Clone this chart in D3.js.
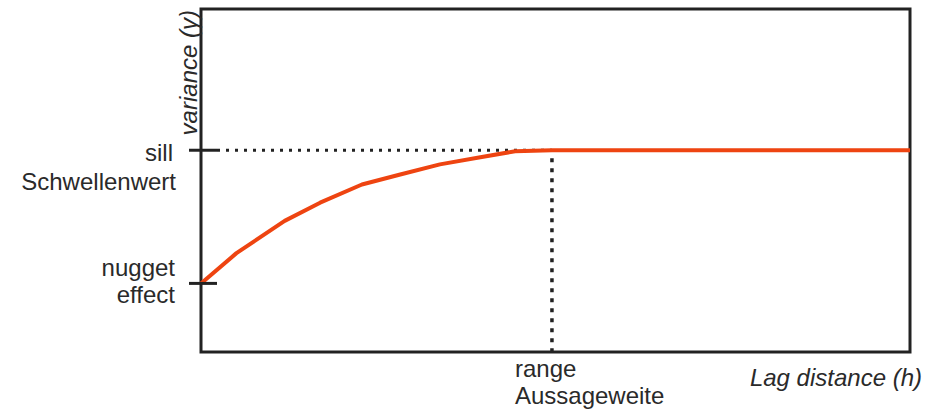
<!DOCTYPE html>
<html>
<head>
<meta charset="utf-8">
<script src="https://cdn.jsdelivr.net/npm/d3@7"></script>
<style>
  body { margin: 0; background: #fff; }
  svg text { font-family: "Liberation Sans", Arial, sans-serif; fill: #2a2a2a; }
</style>
</head>
<body>
<svg id="semivariogram"></svg>
<script>
// lag distance (h) and semivariance (gamma)
const lag = [0, 0.5, 1.18, 1.68, 2.27, 2.81, 3.37, 3.94, 4.43, 4.95, 10];
const gamma = [0.34, 0.49, 0.65, 0.74, 0.83, 0.88, 0.93, 0.965, 0.995, 1, 1];
const sill = 1;
const nugget = 0.34;
const range_h = 4.95;
const y_labels = [{v: sill, lines: ["sill", "Schwellenwert"]},
                  {v: nugget, lines: ["nugget", "effect"]}];

const svg_size = {width: 925, height: 410};
const plot_margin = {top: 9, right: 15, bottom: 58, left: 201};
const plot_width = svg_size.width - plot_margin.left - plot_margin.right;
const plot_height = svg_size.height - plot_margin.top - plot_margin.bottom;
const fs = 24;

const svg = d3.select("#semivariogram")
    .attr("width", svg_size.width)
    .attr("height", svg_size.height);
const plot = svg.append("g")
    .attr("transform", `translate(${plot_margin.left},${plot_margin.top})`);

const x = d3.scaleLinear().domain([0, 10]).range([0, plot_width]);
const y = d3.scaleLinear().domain([0, 1.7]).range([plot_height, 0]);

// frame
plot.append("rect")
    .attr("width", plot_width)
    .attr("height", plot_height)
    .attr("fill", "none")
    .attr("stroke", "#222")
    .attr("stroke-width", 3);

// dotted guides to sill and range
plot.append("line")
    .attr("x1", 16).attr("x2", x(range_h))
    .attr("y1", y(sill)).attr("y2", y(sill))
    .attr("stroke", "#222").attr("stroke-width", 3)
    .attr("stroke-dasharray", "3,6");
plot.append("line")
    .attr("x1", x(range_h)).attr("x2", x(range_h))
    .attr("y1", y(sill) + 8).attr("y2", plot_height)
    .attr("stroke", "#222").attr("stroke-width", 3.5)
    .attr("stroke-dasharray", "4,6");

// variogram curve
const line = d3.line().x((d, i) => x(lag[i])).y(d => y(d));
plot.append("path")
    .datum(gamma)
    .attr("d", line)
    .attr("fill", "none")
    .attr("stroke", "#ee4411")
    .attr("stroke-width", 4)
    .attr("stroke-linejoin", "round");

// y ticks + labels
y_labels.forEach(t => {
    plot.append("line")
        .attr("x1", -12).attr("x2", 16)
        .attr("y1", y(t.v)).attr("y2", y(t.v))
        .attr("stroke", "#222").attr("stroke-width", 3);
});
plot.append("text")
    .attr("y", y(sill) + 11)
    .attr("text-anchor", "end").attr("font-size", fs)
    .selectAll("tspan")
    .data(y_labels[0].lines)
    .enter().append("tspan")
    .attr("x", (d, i) => i ? -25 : -28)
    .attr("dy", (d, i) => i * 29)
    .text(d => d);
plot.append("text")
    .attr("y", y(nugget) - 7)
    .attr("text-anchor", "end").attr("font-size", fs)
    .selectAll("tspan")
    .data(y_labels[1].lines)
    .enter().append("tspan")
    .attr("x", -26)
    .attr("dy", (d, i) => i * 27)
    .text(d => d);

// range label
plot.append("text")
    .attr("y", plot_height + 25)
    .attr("font-size", fs)
    .selectAll("tspan")
    .data(["range", "Aussageweite"])
    .enter().append("tspan")
    .attr("x", x(range_h) - 37)
    .attr("dy", (d, i) => i * 27)
    .text(d => d);

// axis titles
plot.append("text")
    .attr("x", plot_width + 12).attr("y", plot_height + 34)
    .attr("text-anchor", "end").attr("font-size", fs)
    .attr("font-style", "italic")
    .text("Lag distance (h)");
plot.append("text")
    .attr("transform", "rotate(-90)")
    .attr("x", -1).attr("y", -4)
    .attr("text-anchor", "end").attr("font-size", fs)
    .attr("font-style", "italic")
    .text("variance (γ)");
</script>
</body>
</html>
